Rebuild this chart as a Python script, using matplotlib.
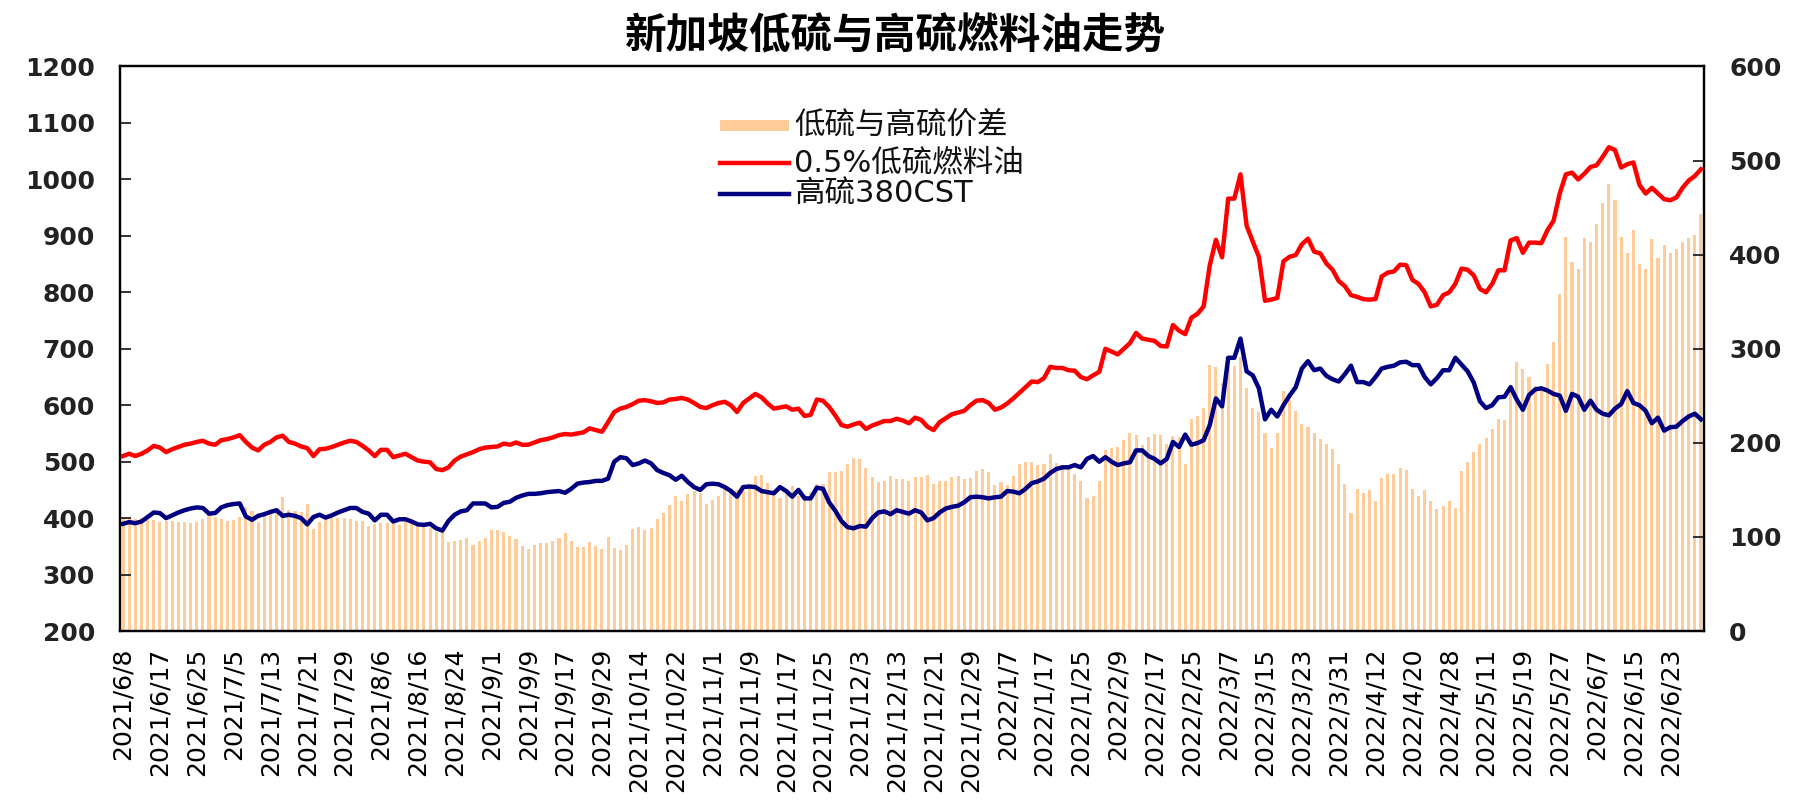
import numpy as np
import matplotlib.pyplot as plt
from matplotlib.lines import Line2D
from matplotlib.patches import Rectangle

# CJK for the Chinese text, DejaVu for everything it can draw
plt.rcParams['font.family'] = ['DejaVu Sans', 'Noto Sans CJK SC']

TITLE = '新加坡低硫与高硫燃料油走势'
NAME_SPREAD = '低硫与高硫价差'
NAME_LOW = '0.5%低硫燃料油'
NAME_HIGH = '高硫380CST'

# every 6th trading day gets a label
tick_labels = ['2021/6/8', '2021/6/17', '2021/6/25', '2021/7/5', '2021/7/13', '2021/7/21',
               '2021/7/29', '2021/8/6', '2021/8/16', '2021/8/24', '2021/9/1', '2021/9/9',
               '2021/9/17', '2021/9/29', '2021/10/14', '2021/10/22', '2021/11/1', '2021/11/9',
               '2021/11/17', '2021/11/25', '2021/12/3', '2021/12/13', '2021/12/21', '2021/12/29',
               '2022/1/7', '2022/1/17', '2022/1/25', '2022/2/9', '2022/2/17', '2022/2/25',
               '2022/3/7', '2022/3/15', '2022/3/23', '2022/3/31', '2022/4/12', '2022/4/20',
               '2022/4/28', '2022/5/11', '2022/5/19', '2022/5/27', '2022/6/7', '2022/6/15',
               '2022/6/23']

# 0.5% low sulphur fuel oil, one value per trading day
low_sulfur = [
    510, 514, 510, 514, 520, 528, 525, 517, 522, 526,
    530, 532, 535, 537, 532, 530, 538, 540, 543, 547,
    535, 525, 520, 530, 535, 543, 546, 535, 532, 527,
    524, 510, 522, 523, 526, 530, 534, 537, 535, 528,
    520, 510, 521, 521, 508, 511, 514, 508, 502, 500,
    499, 487, 485, 490, 502, 509, 513, 517, 522, 525,
    526, 527, 532, 530, 534, 530, 530, 534, 538, 540,
    543, 547, 549, 548, 550, 552, 559, 556, 553, 570,
    588, 594, 597, 602, 608, 609, 607, 604, 605, 610,
    611, 613, 610, 604, 597, 595, 600, 604, 606, 600,
    588, 604, 612, 620, 614, 603, 594, 596, 598, 592,
    594, 581, 583, 610, 608, 597, 582, 565, 562, 566,
    569, 558, 564, 568, 572, 572, 576, 573, 568, 578,
    574, 562, 556, 570, 577, 584, 587, 590, 600, 608,
    609, 604, 592, 596, 603, 612, 622, 632, 642, 641,
    648, 668, 666, 666, 662, 661, 650, 646, 653, 659,
    700, 695, 690, 700, 710, 728, 718, 716, 714, 705,
    704, 742, 732, 726, 755, 762, 775, 848, 893, 862,
    966, 966, 1009, 918, 890, 863, 785, 787, 790, 855,
    863, 866, 885, 895, 872, 869, 851, 840, 820, 811,
    795, 792, 788, 787, 788, 828, 835, 837, 849, 848,
    822, 815, 800, 775, 778, 795, 800, 815, 842, 840,
    830, 806, 800, 815, 839, 839, 892, 896, 870, 888,
    888, 887, 910, 927, 975, 1009, 1012, 1000, 1010, 1022,
    1025, 1040, 1057, 1052, 1021, 1027, 1030, 990, 975, 985,
    975, 965, 963, 968, 985, 998, 1006, 1018,
]

# high sulphur 380CST
high_sulfur = [
    390, 393, 391, 394, 402, 410, 409, 400, 405, 410,
    414, 417, 419, 418, 408, 409, 419, 423, 425, 426,
    403, 397, 404, 407, 411, 414, 404, 406, 404, 400,
    389, 402, 406, 401, 405, 410, 414, 418, 418, 411,
    408, 396, 406, 406, 394, 398, 398, 394, 389, 388,
    390, 382, 378, 395, 406, 412, 414, 426, 426, 426,
    419, 420, 427, 429, 436, 440, 443, 443, 444, 446,
    447, 448, 445, 452, 461, 463, 464, 466, 466, 470,
    500, 508, 506, 494, 497, 502, 497, 485, 480, 476,
    468, 475, 464, 455, 450, 460, 461, 460, 455, 448,
    438, 455, 456, 455, 448, 446, 444, 455, 448, 438,
    450, 435, 435, 454, 452, 428, 413, 395, 384, 382,
    386, 385, 400, 410, 412, 407, 414, 411, 408, 414,
    410, 396, 400, 410, 417, 420, 422, 428, 437, 438,
    437, 435, 437, 438, 448, 447, 444, 452, 462, 465,
    470, 480, 487, 490, 490, 494, 490, 505, 510, 500,
    508, 500, 494, 497, 499, 520, 520, 510, 505, 497,
    505, 535, 526, 548, 530, 533, 538, 565, 612, 598,
    684, 684, 718, 660, 653, 630, 575, 592, 580, 600,
    617, 632, 665, 678, 662, 665, 652, 646, 642, 655,
    670, 641, 641, 637, 650, 665, 668, 670, 676, 677,
    671, 671, 650, 637, 648, 662, 662, 684, 672, 660,
    640, 607, 595, 600, 614, 615, 632, 610, 592, 618,
    628, 630, 626, 620, 617, 590, 620, 615, 592, 608,
    592, 585, 582, 594, 602, 625, 604, 600, 590, 568,
    578, 555, 561, 562, 572, 580, 585, 575,
]

# the spread is low minus high
spread = np.array(low_sulfur) - np.array(high_sulfur)
x = np.arange(len(low_sulfur))

BAR_COLOR = '#FFCC99'
RED = '#FF0000'
NAVY = '#000080'

fig = plt.figure(figsize=(17.99, 8.08), dpi=100)
ax = fig.add_axes([0.0667, 0.219, 0.8805, 0.6987])   # bars, right scale
ax2 = ax.twinx()                                     # lines, left scale

ax.bar(x, spread, width=0.5, color=BAR_COLOR, linewidth=0)
ax.set_ylim(0, 600)
ax.set_yticks(np.arange(0, 601, 100))
ax.set_xlim(-0.5, len(x) - 0.5)

ax2.plot(x, low_sulfur, color=RED, lw=3.2)
ax2.plot(x, high_sulfur, color=NAVY, lw=3.2)
ax2.set_ylim(200, 1200)
ax2.set_yticks(np.arange(200, 1201, 100))

ax.yaxis.tick_right()
ax2.yaxis.tick_left()

ax.set_xticks(x[::6])
ax.set_xticklabels(tick_labels, rotation=90, fontsize=18)
ax.tick_params(axis='x', length=0, pad=12)
ax.tick_params(axis='y', direction='in', length=8, width=1.3, labelsize=18, pad=18, colors='#222222')
ax2.tick_params(axis='y', direction='in', length=8, width=1.3, labelsize=18, pad=18, colors='#222222')
for lbl in ax.get_yticklabels() + ax2.get_yticklabels():
    lbl.set_fontweight('bold')

for a in (ax, ax2):
    for sp in a.spines.values():
        sp.set_linewidth(1.6)
        sp.set_color('black')

fig.text(0.498, 0.955, TITLE, ha='center', va='center', fontsize=30, fontweight='bold')

# legend drawn by hand, three rows at the top centre
x0, x1, xt = 720 / 1799, 789 / 1799, 794 / 1799
rows = [0.845, 0.798, 0.760]
fig.add_artist(Rectangle((x0, rows[0] - 0.0068), x1 - x0, 0.0136,
                         transform=fig.transFigure, color=BAR_COLOR, lw=0))
fig.add_artist(Line2D([x0, x1], [rows[1], rows[1]], transform=fig.transFigure, color=RED, lw=3.2))
fig.add_artist(Line2D([x0, x1], [rows[2], rows[2]], transform=fig.transFigure, color=NAVY, lw=3.2))
for name, y in zip([NAME_SPREAD, NAME_LOW, NAME_HIGH], rows):
    fig.text(xt, y, name, ha='left', va='center', fontsize=22, color='#111111')

fig.savefig('out.png', dpi=100)
